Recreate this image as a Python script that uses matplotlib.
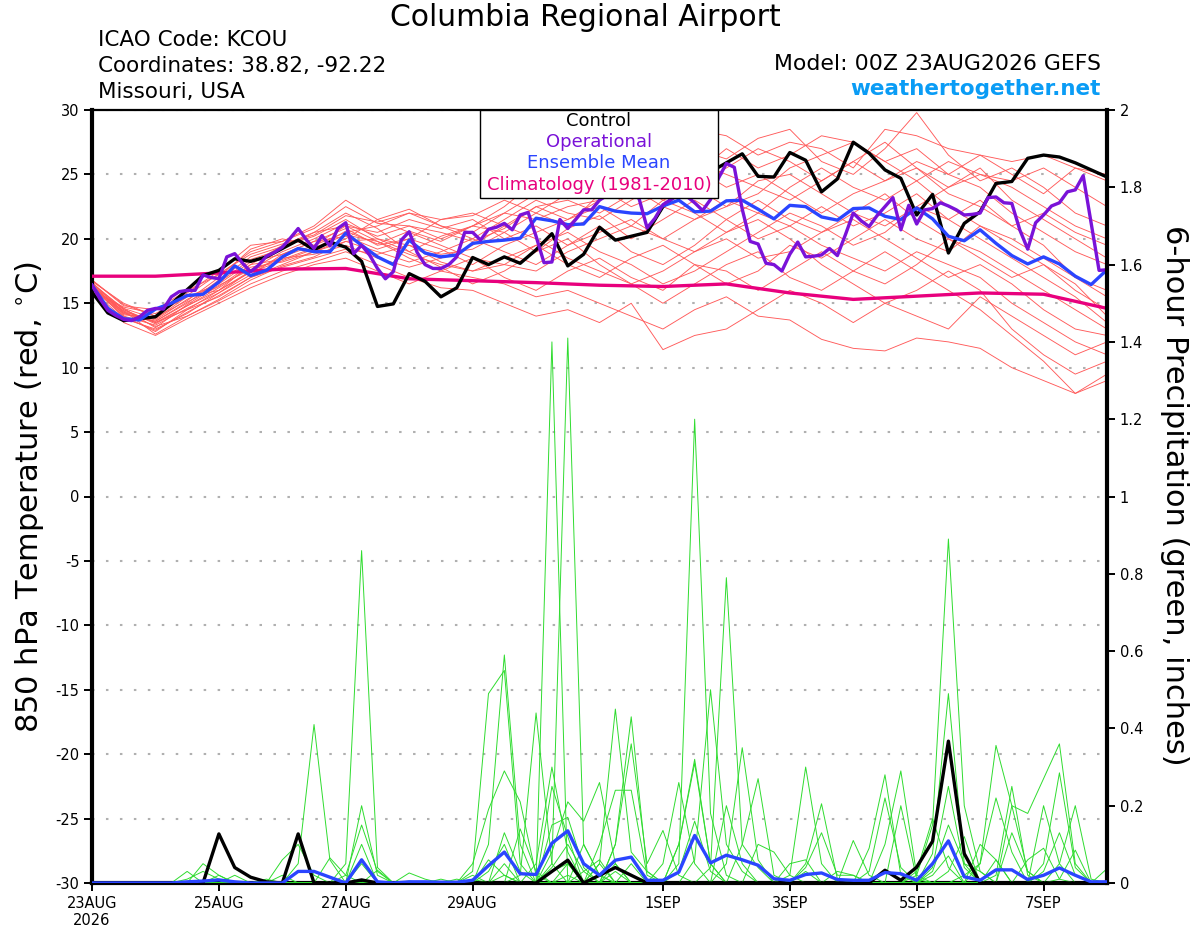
import matplotlib
matplotlib.use('Agg')
import matplotlib.pyplot as plt
import numpy as np
from matplotlib.patches import Rectangle
from matplotlib.ticker import FuncFormatter

# ---- time axes (hours after 00Z 23AUG2026) ----
hours6 = np.arange(0, 385, 6)     # control / mean / members precip
hours3 = np.arange(0, 385, 3)     # operational run
hours12 = np.arange(0, 385, 12)   # ensemble member temperatures
clim_hours = np.arange(0, 385, 24)

tick_hours = [0, 48, 96, 144, 216, 264, 312, 360]
tick_labels = ['23AUG\n2026', '25AUG', '27AUG', '29AUG', '1SEP', '3SEP', '5SEP', '7SEP']

# ---- 850 hPa temperature (C) ----
control_t = [15.85, 14.25, 13.65, 13.8, 13.95, 14.95, 16.05, 17.15, 17.55, 18.45, 18.25, 18.6, 19.25,
             19.9, 19.15, 19.75, 19.35, 18.25, 14.75, 14.95, 17.3, 16.7, 15.5, 16.2, 18.55, 18.0,
             18.6, 18.1, 19.15, 20.4, 17.9, 18.8, 20.9, 19.9, 20.2, 20.5, 22.5, 23.6, 24.4, 25.2,
             25.9, 26.6, 24.85, 24.8, 26.7, 26.1, 23.65, 24.65, 27.5, 26.65, 25.35, 24.7, 21.85,
             23.45, 18.9, 21.2, 22.1, 24.3, 24.45, 26.25, 26.5, 26.35, 25.9, 25.35, 24.8]

operational_t = [16.4, 15.35, 14.45, 14.05, 13.75, 13.65, 13.95, 14.45, 14.6, 14.55, 15.5, 15.9, 16.0,
                 16.0, 17.2, 17.0, 16.9, 18.6, 18.85, 18.1, 17.45, 17.95, 18.65, 18.95, 19.35, 20.05,
                 20.8, 19.95, 19.25, 20.25, 19.45, 20.8, 21.25, 18.85, 19.5, 18.75, 17.7, 16.9, 17.45,
                 19.9, 20.55, 18.95, 18.0, 17.7, 17.7, 18.0, 18.6, 20.5, 20.5, 19.9, 20.75, 20.9, 21.2,
                 20.7, 21.85, 22.05, 20.2, 18.15, 18.2, 21.5, 20.8, 21.5, 22.25, 22.25, 23.0, 23.4,
                 23.9, 23.6, 23.8, 23.1, 20.85, 21.6, 22.65, 23.05, 23.4, 23.3, 22.8, 22.2, 23.05,
                 24.7, 25.85, 25.55, 22.3, 19.8, 19.6, 18.1, 18.0, 17.5, 18.8, 19.75, 18.6, 18.65,
                 18.75, 19.25, 18.7, 20.3, 22.0, 21.4, 20.95, 21.8, 22.5, 23.2, 20.7, 22.6, 21.15,
                 22.25, 22.35, 22.8, 22.55, 22.25, 21.85, 21.9, 22.0, 23.2, 23.25, 22.8, 22.75, 20.7,
                 19.2, 21.25, 21.85, 22.55, 22.8, 23.65, 23.8, 24.9, 21.2, 17.55, 17.6]

mean_t = [16.4, 14.6, 13.8, 13.7, 14.55, 15.0, 15.6, 15.7, 16.65, 17.9, 17.15, 17.55, 18.6, 19.25,
          19.0, 19.0, 20.45, 19.5, 18.6, 18.0, 19.9, 18.9, 18.6, 18.75, 19.65, 19.8, 19.9, 20.05,
          21.6, 21.4, 21.1, 21.15, 22.5, 22.15, 22.0, 21.95, 22.55, 23.0, 22.1, 22.15, 22.95, 23.0,
          22.3, 21.55, 22.6, 22.5, 21.7, 21.45, 22.35, 22.4, 21.75, 21.5, 22.4, 21.55, 20.2, 19.85,
          20.7, 19.65, 18.7, 18.05, 18.6, 18.05, 17.1, 16.45, 17.6]

climatology_t = [17.1, 17.1, 17.35, 17.65, 17.7, 16.9, 16.75, 16.6, 16.4, 16.3, 16.5, 15.8, 15.3,
                 15.55, 15.8, 15.7, 14.6]

member_t = [
    [16.4, 14.2, 13.6, 15.0, 16.8, 18.6, 19.4, 20.2, 21.5, 20.0, 19.5, 18.8, 19.2, 20.5, 22.0, 21.0, 23.5,
     24.8, 25.5, 27.0, 26.2, 27.8, 28.5, 26.0, 25.0, 27.0, 29.8, 26.5, 24.5, 25.5, 24.0, 22.0, 21.0],
    [16.0, 13.8, 13.0, 14.2, 15.8, 17.5, 18.6, 19.5, 20.5, 21.0, 22.0, 21.0, 20.0, 21.5, 23.0, 22.0, 21.5,
     23.0, 24.5, 26.0, 25.0, 24.0, 23.0, 24.5, 26.0, 24.5, 26.0, 25.0, 26.5, 25.0, 23.5, 25.5, 24.5],
    [16.6, 14.5, 13.4, 14.8, 16.0, 18.0, 19.5, 20.5, 21.0, 19.8, 18.5, 17.5, 17.0, 16.5, 15.5, 16.0, 15.0,
     14.0, 13.0, 14.5, 15.5, 14.0, 13.7, 12.2, 11.5, 11.3, 12.3, 12.0, 11.5, 10.0, 9.0, 8.0, 9.5],
    [16.2, 14.0, 12.8, 14.5, 15.5, 17.0, 18.0, 19.0, 20.0, 21.5, 20.5, 19.5, 18.5, 18.0, 19.5, 20.5, 19.0,
     18.0, 16.5, 17.5, 19.0, 20.5, 22.0, 21.0, 19.5, 20.5, 22.5, 21.5, 23.0, 21.0, 19.5, 17.0, 15.5],
    [16.8, 14.8, 14.5, 16.0, 17.2, 19.0, 19.8, 20.8, 22.5, 21.2, 21.0, 20.0, 21.0, 22.5, 24.5, 23.5, 25.0,
     26.0, 24.0, 25.0, 27.0, 25.5, 26.5, 28.0, 27.5, 26.0, 27.0, 25.0, 24.0, 22.0, 20.5, 19.0, 18.0],
    [16.3, 14.3, 13.2, 14.0, 15.2, 16.5, 17.5, 18.2, 19.0, 18.0, 17.0, 16.2, 16.0, 15.0, 14.0, 14.5, 13.5,
     15.0, 11.4, 12.5, 13.0, 14.5, 16.0, 15.0, 13.5, 15.0, 14.0, 13.0, 15.5, 14.0, 12.5, 11.0, 12.0],
    [16.1, 14.6, 13.8, 15.5, 16.5, 18.2, 18.8, 19.8, 20.8, 19.5, 20.0, 21.5, 21.8, 23.0, 22.0, 23.5, 24.0,
     22.5, 23.5, 25.5, 24.0, 25.0, 23.5, 22.0, 23.5, 24.5, 25.5, 23.5, 22.5, 21.0, 22.0, 20.5, 19.5],
    [16.5, 14.1, 13.9, 15.2, 17.0, 19.2, 20.0, 19.5, 21.0, 20.5, 21.5, 20.8, 21.5, 20.0, 21.0, 19.5, 20.5,
     21.5, 20.0, 19.0, 20.5, 22.0, 21.0, 19.5, 18.5, 17.5, 19.0, 18.0, 17.0, 15.0, 13.5, 12.0, 11.0],
    [16.0, 13.5, 12.5, 13.8, 15.0, 16.2, 17.2, 18.0, 18.5, 17.5, 16.5, 17.5, 18.5, 17.0, 16.0, 17.5, 18.5,
     17.0, 16.0, 18.0, 17.5, 16.0, 17.5, 19.0, 17.5, 16.5, 18.0, 20.0, 19.0, 17.5, 16.0, 14.5, 13.0],
    [16.7, 15.0, 14.0, 15.8, 17.5, 19.5, 19.8, 21.0, 23.0, 21.5, 22.3, 21.0, 20.5, 22.0, 23.5, 24.0, 25.5,
     26.0, 27.0, 28.5, 28.0, 26.5, 27.5, 27.0, 25.5, 28.5, 28.0, 27.0, 26.5, 26.0, 26.5, 25.5, 25.0],
    [16.2, 14.4, 13.5, 14.8, 16.2, 17.8, 18.2, 19.0, 19.8, 19.0, 18.2, 19.0, 20.0, 19.0, 18.0, 19.5, 21.0,
     19.0, 18.0, 19.5, 21.5, 23.0, 21.5, 20.5, 22.0, 23.5, 21.5, 20.0, 18.5, 17.0, 18.0, 16.5, 14.0],
    [16.4, 14.0, 13.3, 14.6, 15.8, 17.2, 18.8, 19.8, 20.2, 19.2, 20.0, 19.2, 18.0, 19.5, 20.5, 21.5, 22.5,
     21.0, 20.0, 21.5, 22.5, 24.5, 25.0, 23.5, 22.0, 21.0, 22.5, 24.0, 25.5, 23.0, 21.5, 20.0, 18.5],
    [16.0, 14.7, 14.2, 15.5, 16.0, 17.5, 18.5, 18.8, 19.5, 18.5, 17.8, 18.5, 19.5, 21.0, 20.0, 18.5, 17.5,
     16.5, 15.0, 16.5, 18.0, 19.0, 17.0, 16.0, 17.5, 19.0, 17.5, 16.0, 14.5, 12.5, 10.5, 8.0, 9.0],
    [16.6, 14.3, 13.7, 15.3, 16.6, 18.4, 19.2, 20.5, 22.0, 20.8, 19.0, 20.2, 21.0, 22.0, 21.5, 22.5, 23.0,
     24.0, 22.5, 21.5, 23.0, 22.0, 24.0, 25.5, 24.0, 23.0, 24.5, 22.5, 21.0, 19.5, 18.0, 16.0, 14.5],
    [16.3, 13.9, 12.9, 14.3, 15.6, 17.0, 17.8, 18.5, 19.2, 18.8, 19.5, 18.2, 17.5, 18.5, 19.5, 18.0, 17.0,
     18.5, 19.5, 18.0, 16.5, 17.5, 19.5, 18.5, 20.0, 21.5, 20.0, 19.0, 21.0, 20.0, 18.5, 17.0, 16.0],
    [16.5, 14.6, 13.1, 14.9, 16.4, 17.6, 19.0, 20.0, 21.2, 20.2, 21.0, 20.5, 19.8, 20.8, 22.5, 23.0, 22.0,
     23.5, 25.0, 24.0, 22.5, 23.5, 25.5, 26.5, 27.5, 26.0, 24.5, 26.0, 25.0, 24.0, 22.5, 21.0, 20.0],
    [16.1, 14.2, 13.6, 15.1, 16.3, 18.0, 18.4, 19.3, 20.3, 19.8, 18.8, 18.0, 17.5, 18.0, 17.5, 19.0, 20.0,
     21.0, 23.0, 22.0, 20.5, 21.5, 20.0, 18.0, 16.5, 15.0, 16.0, 17.5, 16.0, 13.0, 11.0, 9.5, 10.5],
    [16.8, 14.9, 14.0, 15.6, 17.3, 18.8, 19.6, 20.3, 21.8, 21.3, 22.0, 21.5, 22.0, 21.0, 22.5, 21.5, 23.0,
     24.5, 23.0, 24.0, 25.5, 27.0, 26.0, 24.5, 26.0, 27.5, 25.5, 24.0, 25.0, 24.5, 25.5, 24.0, 22.5],
    [16.2, 14.4, 12.6, 14.0, 15.3, 16.8, 17.9, 18.6, 19.8, 20.0, 19.0, 17.8, 16.5, 17.5, 19.0, 20.0, 18.0,
     16.5, 17.5, 19.0, 20.0, 18.5, 19.0, 20.5, 21.5, 20.0, 18.5, 17.0, 18.0, 16.5, 14.5, 13.0, 12.5],
    [16.4, 14.5, 13.5, 14.5, 16.0, 17.4, 18.3, 19.2, 20.6, 19.6, 20.6, 19.8, 21.0, 20.5, 19.0, 20.8, 21.8,
     20.0, 21.5, 23.0, 21.5, 20.0, 21.0, 22.5, 21.0, 22.0, 23.5, 21.5, 20.0, 18.5, 17.0, 15.5, 13.5],
]

# ---- 6-hour precipitation (inches) ----
control_p = [0, 0, 0, 0, 0, 0, 0, 0, 0.127, 0.04, 0.015, 0.003, 0, 0.127, 0, 0, 0, 0.008, 0, 0, 0,
             0, 0, 0, 0, 0, 0, 0, 0, 0.03, 0.059, 0, 0.02, 0.04, 0.02, 0, 0, 0, 0, 0, 0, 0, 0, 0,
             0, 0, 0, 0, 0, 0, 0.033, 0.007, 0.041, 0.108, 0.367, 0.076, 0, 0, 0, 0, 0, 0, 0, 0, 0]

mean_p = [0, 0, 0, 0, 0, 0, 0.003, 0.005, 0.008, 0.003, 0, 0, 0, 0.03, 0.03, 0.015, 0, 0.06, 0.003,
          0, 0.003, 0.003, 0.002, 0.002, 0.007, 0.045, 0.08, 0.024, 0.022, 0.103, 0.135, 0.05, 0.02,
          0.059, 0.067, 0.007, 0.007, 0.028, 0.123, 0.052, 0.072, 0.06, 0.046, 0.011, 0.007, 0.022,
          0.026, 0.009, 0.007, 0.007, 0.027, 0.024, 0.007, 0.05, 0.109, 0.016, 0.007, 0.034, 0.034,
          0.009, 0.02, 0.039, 0.02, 0.003, 0.003]

# members: non-zero 6-hour totals keyed by step index
member_p = [
    {6: 0.01, 7: 0.03, 8: 0.01, 16: 0.05, 17: 0.86, 18: 0.04, 26: 0.05, 29: 0.04, 30: 0.1, 31: 0.03,
     57: 0.02, 58: 0.25, 59: 0.02},
    {7: 0.05, 8: 0.02, 13: 0.05, 14: 0.41, 15: 0.06, 24: 0.02, 33: 0.05, 37: 0.1, 38: 0.31, 39: 0.05,
     58: 0.13, 59: 0.03},
    {12: 0.06, 13: 0.1, 14: 0.02, 24: 0.03, 25: 0.49, 26: 0.55, 27: 0.05, 30: 0.02, 45: 0.03, 58: 0.2,
     59: 0.18, 60: 0.27, 61: 0.36, 62: 0.05},
    {8: 0.02, 17: 0.2, 18: 0.02, 25: 0.1, 26: 0.59, 27: 0.1, 34: 0.05, 44: 0.05, 45: 0.06, 60: 0.05,
     61: 0.285, 62: 0.04},
    {9: 0.02, 16: 0.02, 17: 0.15, 18: 0.03, 24: 0.05, 25: 0.19, 26: 0.29, 27: 0.21, 28: 0.02, 44: 0.02,
     45: 0.3, 46: 0.05, 53: 0.02, 54: 0.07},
    {6: 0.03, 17: 0.1, 27: 0.02, 28: 0.44, 29: 0.05, 45: 0.05, 46: 0.205, 47: 0.01, 54: 0.03, 55: 0.12},
    {11: 0.01, 15: 0.065, 16: 0.02, 29: 1.40, 32: 0.05, 37: 0.03, 38: 0.16, 39: 0.03, 60: 0.03,
     61: 0.13, 62: 0.02},
    {12: 0.02, 17: 0.05, 29: 0.05, 30: 1.41, 31: 0.1, 32: 0.02, 40: 0.2, 41: 0.05, 61: 0.05, 62: 0.2,
     63: 0.01},
    {20: 0.026, 21: 0.01, 29: 0.08, 30: 0.21, 31: 0.16, 32: 0.26, 33: 0.05, 45: 0.04, 46: 0.13,
     47: 0.02, 48: 0.02},
    {26: 0.13, 27: 0.03, 32: 0.05, 33: 0.45, 34: 0.08, 35: 0.03, 49: 0.09, 50: 0.28, 51: 0.02, 56: 0.1,
     57: 0.06},
    {22: 0.01, 29: 0.15, 30: 0.17, 31: 0.04, 33: 0.1, 34: 0.43, 35: 0.03, 49: 0.03, 50: 0.22, 51: 0.04},
    {25: 0.03, 26: 0.1, 29: 0.25, 30: 0.12, 32: 0.1, 33: 0.24, 34: 0.24, 35: 0.02, 50: 0.1, 51: 0.29,
     52: 0.02},
    {18: 0.033, 28: 0.05, 29: 0.3, 30: 0.08, 33: 0.1, 34: 0.36, 35: 0.05, 36: 0.136, 37: 0.02, 51: 0.2,
     52: 0.01, 57: 0.06},
    {23: 0.01, 27: 0.14, 28: 0.03, 36: 0.05, 37: 0.26, 38: 0.05, 48: 0.11, 49: 0.02, 52: 0.03,
     53: 0.166, 54: 0.04},
    {29: 0.03, 30: 0.05, 37: 0.05, 38: 1.20, 39: 0.18, 40: 0.02, 52: 0.02, 53: 0.15, 54: 0.89, 55: 0.2,
     56: 0.03},
    {24: 0.01, 31: 0.1, 32: 0.02, 37: 0.1, 38: 0.32, 39: 0.05, 42: 0.1, 43: 0.08, 44: 0.02, 53: 0.076,
     54: 0.49, 55: 0.05},
    {26: 0.02, 30: 0.05, 38: 0.06, 39: 0.5, 40: 0.1, 41: 0.03, 53: 0.04, 54: 0.25, 55: 0.04, 59: 0.06,
     60: 0.09, 61: 0.01},
    {20: 0.005, 33: 0.03, 39: 0.04, 40: 0.79, 41: 0.1, 42: 0.04, 53: 0.03, 54: 0.15, 55: 0.05, 56: 0.03,
     60: 0.2, 61: 0.05},
    {25: 0.06, 26: 0.02, 40: 0.05, 41: 0.35, 42: 0.06, 47: 0.03, 48: 0.02, 56: 0.05, 57: 0.356, 58: 0.2,
     59: 0.03, 64: 0.037},
    {31: 0.03, 32: 0.06, 41: 0.1, 42: 0.27, 43: 0.02, 55: 0.02, 56: 0.05, 57: 0.22, 58: 0.08, 61: 0.01,
     62: 0.085},
]

# colours
RED = '#ff5a5a'
GREEN = '#2fdc2f'
PURPLE = '#7a12d8'
BLUE = '#2a45ff'
MAGENTA = '#e8007d'

plt.rcParams['font.family'] = ['DejaVu Sans']
plt.rcParams['axes.unicode_minus'] = False

fig = plt.figure(figsize=(12, 9.27), dpi=100)
ax = fig.add_axes([92 / 1200, 44 / 927, 1015 / 1200, 773 / 927])
ax2 = ax.twinx()

# temperature
for m in member_t:
    ax.plot(hours12, m, color=RED, linewidth=0.65, zorder=2)
ax.plot(clim_hours, climatology_t, color=MAGENTA, linewidth=2.4, zorder=3)
ax.plot(hours6, control_t, color='black', linewidth=2.4, zorder=4)
ax.plot(hours6, mean_t, color=BLUE, linewidth=2.4, zorder=5)
ax.plot(hours3, operational_t, color=PURPLE, linewidth=2.4, zorder=6)

# precipitation
for m in member_p:
    vals = np.zeros(len(hours6))
    for k, v in m.items():
        vals[k] = v
    ax2.plot(hours6, vals, color=GREEN, linewidth=0.7, zorder=2)
ax2.plot(hours6, control_p, color='black', linewidth=2.4, zorder=4)
ax2.plot(hours6, mean_p, color=BLUE, linewidth=2.4, zorder=5)

ax.set_xlim(0, 384)
ax.set_ylim(-30, 30)
ax2.set_ylim(0, 2)
ax.set_xticks(tick_hours)
ax.set_xticklabels(tick_labels)
ax.set_yticks(np.arange(-30, 31, 5))
ax2.set_yticks(np.arange(0, 2.01, 0.2))
ax2.yaxis.set_major_formatter(FuncFormatter(lambda v, p: '%g' % round(v, 1)))

ax.grid(axis='y', color='#b0b0b0', linestyle=(0, (1.2, 5.5)), linewidth=1.5)
ax.set_axisbelow(True)

for a in (ax, ax2):
    a.tick_params(axis='both', direction='out', length=6, width=1.4, labelsize=10.5, pad=3)
ax.spines['left'].set_linewidth(3)
ax.spines['bottom'].set_linewidth(3)
ax.spines['top'].set_linewidth(1.6)
ax.spines['right'].set_visible(False)
ax2.spines['right'].set_linewidth(3)
for s in ('left', 'bottom', 'top'):
    ax2.spines[s].set_visible(False)

# legend box
ax2.add_patch(Rectangle((0.3823, 0.886), 0.2345, 0.114, transform=ax2.transAxes,
                        facecolor='white', edgecolor='black', linewidth=1.0, zorder=20))
legend_items = [('Control', 'black'), ('Operational', PURPLE),
                ('Ensemble Mean', BLUE), ('Climatology (1981-2010)', MAGENTA)]
legend_y = [0.9858, 0.9586, 0.9314, 0.9030]
for (txt, col), yy in zip(legend_items, legend_y):
    ax2.text(0.4995, yy, txt, color=col, fontsize=13, ha='center', va='center',
             transform=ax2.transAxes, zorder=21)

# header texts
fig.text(585 / 1200, 1 - 18 / 927, 'Columbia Regional Airport', fontsize=21.5,
         ha='center', va='center')
fig.text(98 / 1200, 1 - 40 / 927, 'ICAO Code: KCOU', fontsize=15.5, ha='left', va='center')
fig.text(98 / 1200, 1 - 66 / 927, 'Coordinates: 38.82, -92.22', fontsize=15.5, ha='left', va='center')
fig.text(98 / 1200, 1 - 92 / 927, 'Missouri, USA', fontsize=15.5, ha='left', va='center')
fig.text(1101 / 1200, 1 - 64 / 927, 'Model: 00Z 23AUG2026 GEFS', fontsize=15.8, ha='right', va='center')
fig.text(1101 / 1200, 1 - 89 / 927, 'weathertogether.net', fontsize=15.5, fontweight='bold',
         color='#0a9cf5', ha='right', va='center')

fig.text(30 / 1200, 1 - 497 / 927, '850 hPa Temperature (red, $^{\\circ}$C)', fontsize=22,
         rotation=90, ha='center', va='center')
fig.text(1175 / 1200, 1 - 495 / 927, '6-hour Precipitation (green, inches)', fontsize=22,
         rotation=270, ha='center', va='center')

fig.savefig('out.png', dpi=100)
